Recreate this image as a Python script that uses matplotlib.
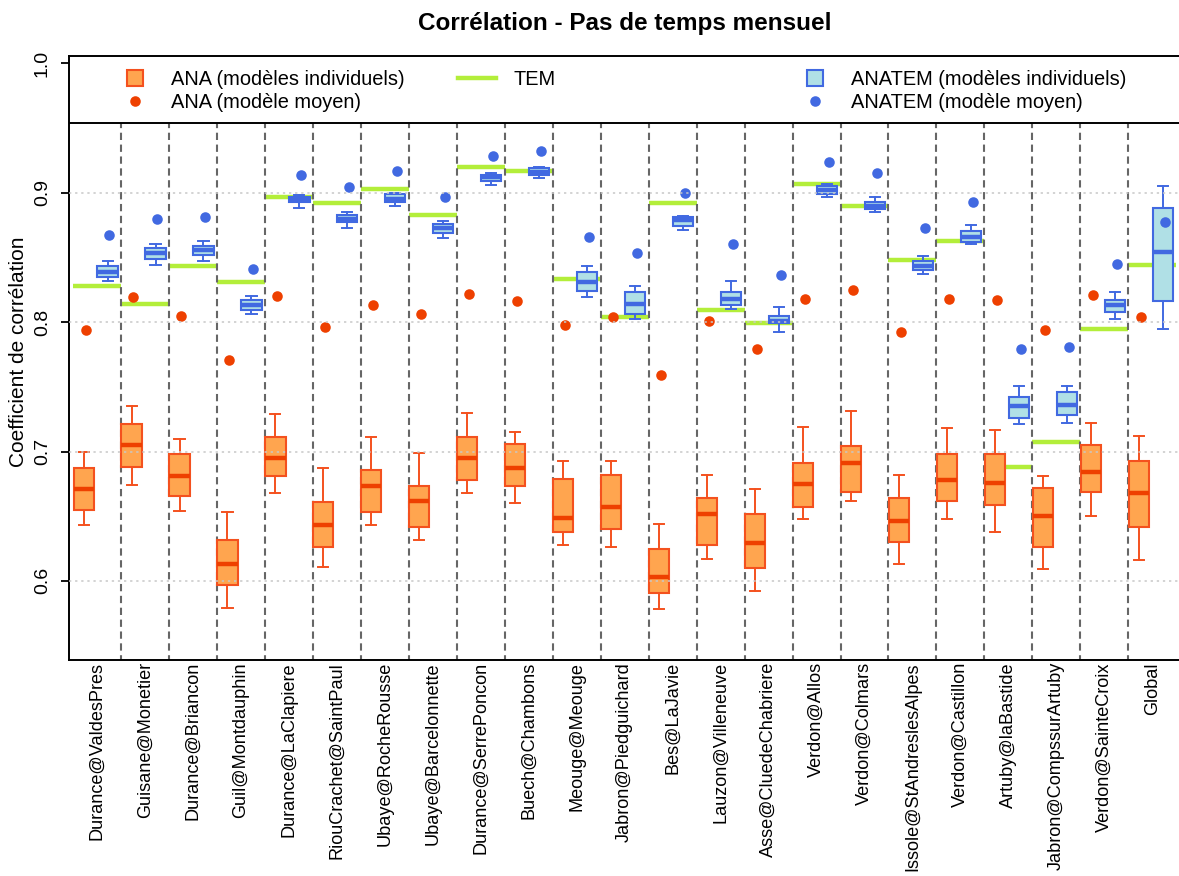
import numpy as np
import matplotlib
matplotlib.use("Agg")
import matplotlib.pyplot as plt
from matplotlib.lines import Line2D

plt.rcParams['font.family'] = ['Liberation Sans', 'DejaVu Sans']

stations = ["Durance@ValdesPres", "Guisane@Monetier", "Durance@Briancon", "Guil@Montdauphin",
            "Durance@LaClapiere", "RiouCrachet@SaintPaul", "Ubaye@RocheRousse", "Ubaye@Barcelonnette",
            "Durance@SerrePoncon", "Buech@Chambons", "Meouge@Meouge", "Jabron@Piedguichard",
            "Bes@LaJavie", "Lauzon@Villeneuve", "Asse@CluedeChabriere", "Verdon@Allos",
            "Verdon@Colmars", "Issole@StAndreslesAlpes", "Verdon@Castillon", "Artuby@laBastide",
            "Jabron@CompssurArtuby", "Verdon@SainteCroix", "Global"]

# ANA (individual models) box stats
ana_whishi = [0.700, 0.735, 0.710, 0.653, 0.729, 0.687, 0.711, 0.699, 0.730, 0.715, 0.693, 0.693,
              0.644, 0.682, 0.671, 0.719, 0.731, 0.682, 0.718, 0.717, 0.681, 0.722, 0.712]
ana_q3 = [0.687, 0.721, 0.698, 0.632, 0.711, 0.661, 0.686, 0.673, 0.711, 0.706, 0.679, 0.682,
          0.625, 0.664, 0.652, 0.691, 0.704, 0.664, 0.698, 0.698, 0.672, 0.705, 0.693]
ana_med = [0.671, 0.705, 0.681, 0.613, 0.695, 0.643, 0.673, 0.662, 0.695, 0.687, 0.649, 0.657,
           0.603, 0.652, 0.629, 0.675, 0.691, 0.646, 0.678, 0.676, 0.650, 0.684, 0.668]
ana_q1 = [0.655, 0.688, 0.666, 0.597, 0.681, 0.626, 0.653, 0.642, 0.678, 0.673, 0.638, 0.640,
          0.591, 0.628, 0.610, 0.657, 0.669, 0.630, 0.662, 0.659, 0.626, 0.669, 0.642]
ana_whislo = [0.643, 0.674, 0.654, 0.579, 0.668, 0.611, 0.643, 0.632, 0.668, 0.660, 0.628, 0.626,
              0.578, 0.617, 0.592, 0.648, 0.662, 0.613, 0.648, 0.638, 0.609, 0.650, 0.616]
ana_mean = [0.794, 0.819, 0.805, 0.771, 0.820, 0.796, 0.813, 0.806, 0.822, 0.816, 0.798, 0.804,
            0.759, 0.801, 0.779, 0.818, 0.825, 0.792, 0.818, 0.817, 0.794, 0.821, 0.804]

# ANATEM (individual models) box stats
anatem_whishi = [0.847, 0.860, 0.863, 0.820, 0.898, 0.885, 0.900, 0.878, 0.915, 0.920, 0.843, 0.828,
                 0.882, 0.832, 0.812, 0.907, 0.897, 0.851, 0.875, 0.751, 0.751, 0.823, 0.905]
anatem_q3 = [0.843, 0.857, 0.859, 0.817, 0.897, 0.883, 0.899, 0.876, 0.914, 0.919, 0.839, 0.823,
             0.881, 0.823, 0.805, 0.905, 0.893, 0.847, 0.870, 0.742, 0.746, 0.817, 0.888]
anatem_med = [0.839, 0.853, 0.856, 0.813, 0.895, 0.880, 0.895, 0.873, 0.912, 0.916, 0.831, 0.814,
              0.879, 0.818, 0.801, 0.902, 0.890, 0.843, 0.866, 0.735, 0.736, 0.813, 0.854]
anatem_q1 = [0.835, 0.849, 0.852, 0.809, 0.893, 0.877, 0.893, 0.869, 0.909, 0.914, 0.824, 0.806,
             0.874, 0.813, 0.799, 0.899, 0.887, 0.840, 0.862, 0.726, 0.728, 0.808, 0.816]
anatem_whislo = [0.832, 0.844, 0.847, 0.806, 0.888, 0.873, 0.890, 0.865, 0.906, 0.911, 0.819, 0.802,
                 0.871, 0.810, 0.792, 0.897, 0.885, 0.837, 0.860, 0.721, 0.722, 0.802, 0.795]
anatem_mean = [0.867, 0.880, 0.881, 0.841, 0.914, 0.904, 0.917, 0.897, 0.928, 0.932, 0.866, 0.853,
               0.900, 0.860, 0.836, 0.924, 0.915, 0.873, 0.893, 0.779, 0.781, 0.845, 0.877]

tem = [0.828, 0.814, 0.843, 0.831, 0.897, 0.892, 0.903, 0.883, 0.920, 0.917, 0.833, 0.804,
       0.892, 0.809, 0.799, 0.907, 0.890, 0.848, 0.863, 0.688, 0.707, 0.795, 0.844]

ORANGE_FILL = '#FFA54F'
ORANGE_EDGE = '#F4511E'
RED = '#EE4000'
BLUE_FILL = '#B0E0E6'
BLUE = '#4169E1'
GREEN = '#B3EE3A'


def stats(lo, q1, med, q3, hi):
    return [dict(whislo=a, q1=b, med=c, q3=d, whishi=e) for a, b, c, d, e in zip(lo, q1, med, q3, hi)]


fig = plt.figure(figsize=(11.79, 8.76), dpi=100)
W, H = 1179, 876
ax = fig.add_axes([69 / W, (H - 660) / H, (1180.3 - 69) / W, (660 - 56) / H])

x = np.arange(1, len(stations) + 1)

# TEM reference segments
ax.hlines(tem, x - 0.5, x + 0.5, colors=GREEN, linewidth=3.2, zorder=2)

# separators between stations
for s in x[:-1] + 0.5:
    ax.plot([s, s], [0.5, 0.9541], color='#666666', linewidth=1.5, dashes=(3.5, 2.2), zorder=2.5)

box_kw = dict(widths=0.42, capwidths=0.21, showfliers=False, patch_artist=True, manage_ticks=False)
ax.bxp(stats(ana_whislo, ana_q1, ana_med, ana_q3, ana_whishi), positions=x - 0.28,
       boxprops=dict(facecolor=ORANGE_FILL, edgecolor=ORANGE_EDGE, linewidth=1.5),
       medianprops=dict(color=RED, linewidth=3.2, solid_capstyle='butt'),
       whiskerprops=dict(color=ORANGE_EDGE, linewidth=1.4),
       capprops=dict(color=ORANGE_EDGE, linewidth=1.4), zorder=3, **box_kw)
ax.bxp(stats(anatem_whislo, anatem_q1, anatem_med, anatem_q3, anatem_whishi), positions=x + 0.22,
       boxprops=dict(facecolor=BLUE_FILL, edgecolor=BLUE, linewidth=1.5),
       medianprops=dict(color=BLUE, linewidth=3.2, solid_capstyle='butt'),
       whiskerprops=dict(color=BLUE, linewidth=1.4),
       capprops=dict(color=BLUE, linewidth=1.4), zorder=3, **box_kw)

ax.plot(x - 0.24, ana_mean, 'o', color=RED, markersize=7.6, markeredgewidth=0, zorder=4)
ax.plot(x + 0.26, anatem_mean, 'o', color=BLUE, markersize=7.6, markeredgewidth=0, zorder=4)

# grid on top
for g in [0.6, 0.7, 0.8, 0.9]:
    ax.axhline(g, color='#c8c8c8', linewidth=1.1, dashes=(1.5, 2.5), zorder=6)

# legend separator line
ax.axhline(0.9541, color='black', linewidth=1.4, zorder=7)

ax.set_xlim(0.416, 23.584)
ax.set_ylim(0.5389, 1.0056)
ax.set_yticks([0.6, 0.7, 0.8, 0.9, 1.0])
ax.set_yticklabels(['0.6', '0.7', '0.8', '0.9', '1.0'], rotation=90, va='center')
ax.tick_params(axis='y', length=6, width=1.3, labelsize=14, pad=7)
ax.set_xticks(x)
ax.set_xticklabels(stations, rotation=90, fontsize=13.1)
ax.tick_params(axis='x', length=0, pad=1.5)
for sp in ['left', 'bottom', 'top']:
    ax.spines[sp].set_linewidth(1.4)
ax.spines['right'].set_visible(False)

ax.set_ylabel('Coefficient de corrélation', fontsize=15, va='center')
ax.yaxis.set_label_coords((19 - 69) / 1111.3, (660 - 352) / 604)
ax.set_title('Corrélation - Pas de temps mensuel', fontsize=17.5, fontweight='bold', pad=19)

# legends
fs = 14.4
leg_kw = dict(loc='upper left', frameon=False, fontsize=fs, borderpad=0, borderaxespad=0,
              labelspacing=0.22)
top = (660 - 70) / 604
h_ana = [Line2D([], [], marker='s', linestyle='none', markersize=12.2, markerfacecolor=ORANGE_FILL,
                markeredgecolor=ORANGE_EDGE, markeredgewidth=1.5),
         Line2D([], [], marker='o', linestyle='none', markersize=7.6, color=RED, markeredgewidth=0)]
leg1 = ax.legend(h_ana, ['ANA (modèles individuels)', 'ANA (modèle moyen)'],
                 bbox_to_anchor=((125 - 69) / 1111.3, top),
                 handlelength=1.0, handletextpad=1.3, **leg_kw)
ax.add_artist(leg1)
h_tem = [Line2D([], [], color=GREEN, linewidth=3.2)]
leg2 = ax.legend(h_tem, ['TEM'], bbox_to_anchor=((458 - 69) / 1111.3, top),
                 handlelength=1.9, handletextpad=0.85, **leg_kw)
ax.add_artist(leg2)
h_anatem = [Line2D([], [], marker='s', linestyle='none', markersize=12.2, markerfacecolor=BLUE_FILL,
                   markeredgecolor=BLUE, markeredgewidth=1.5),
            Line2D([], [], marker='o', linestyle='none', markersize=7.6, color=BLUE, markeredgewidth=0)]
ax.legend(h_anatem, ['ANATEM (modèles individuels)', 'ANATEM (modèle moyen)'],
          bbox_to_anchor=((805 - 69) / 1111.3, top),
          handlelength=1.0, handletextpad=1.3, **leg_kw)

fig.savefig('out.png', dpi=100)
